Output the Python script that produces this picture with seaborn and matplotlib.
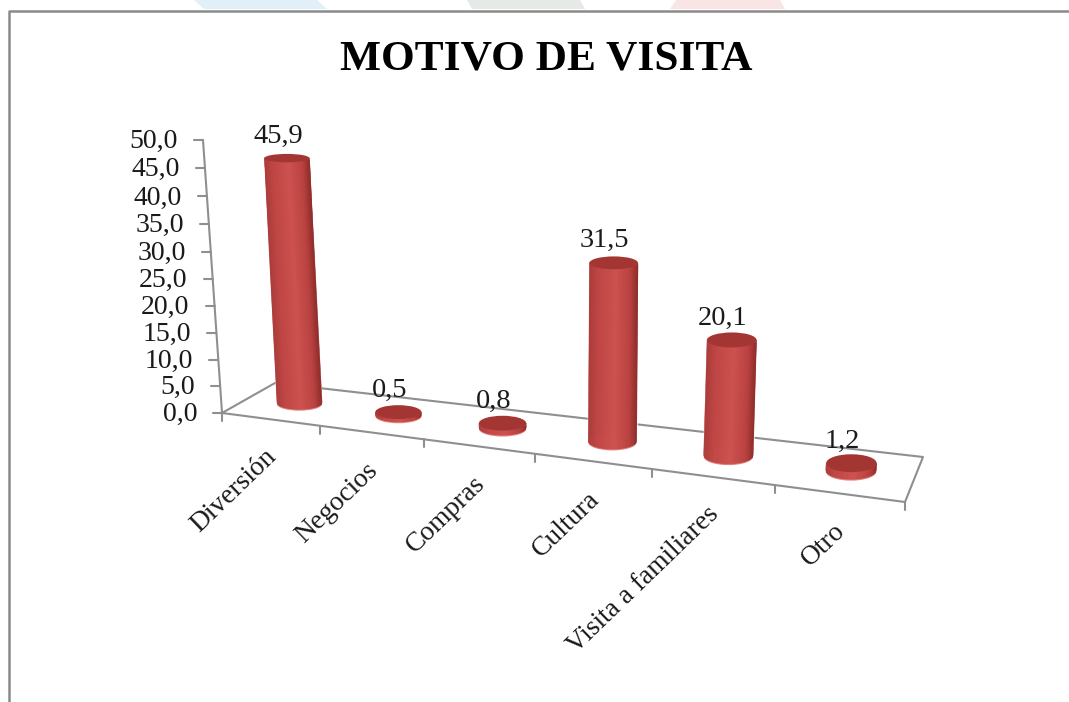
import numpy as np
import matplotlib
matplotlib.use("Agg")
import matplotlib.pyplot as plt
import matplotlib.transforms as mtransforms
from matplotlib.collections import PolyCollection
from matplotlib.colors import LinearSegmentedColormap
from matplotlib.patches import Ellipse, Polygon
import seaborn as sns

categories = ["Diversión", "Negocios", "Compras", "Cultura", "Visita a familiares", "Otro"]
values = [45.9, 0.5, 0.8, 31.5, 20.1, 1.2]
value_labels = ["45,9", "0,5", "0,8", "31,5", "20,1", "1,2"]
axis_ticks = [0, 5, 10, 15, 20, 25, 30, 35, 40, 45, 50]
axis_tick_labels = ["0,0", "5,0", "10,0", "15,0", "20,0", "25,0", "30,0", "35,0", "40,0", "45,0", "50,0"]

W, H = 1069, 702
sns.set_theme(style="white")
plt.rcParams["font.family"] = ["Liberation Serif", "DejaVu Serif"]

fig = plt.figure(figsize=(W / 100, H / 100), dpi=100, facecolor="white")
ax = fig.add_axes([0, 0, 1, 1])
sns.barplot(x=categories, y=values, ax=ax, color="#c04644", saturation=1, width=0.4)
bars = list(ax.patches)
ax.axis("off")

# pixel space of the reference (y down)
PX = mtransforms.Affine2D().scale(1, -1).translate(0, H)

# perspective of the bar plane: (category, value) -> pixel, calibrated by least squares
calib = [((0, 0), (299.5, 402)), ((0, 45.9), (287, 158)), ((1, 0), (398.5, 416)),
         ((2, 0), (502.5, 428)), ((3, 0), (612.5, 440)), ((3, 31.5), (613.5, 263)),
         ((4, 0), (728.5, 454)), ((4, 20.1), (732, 340)), ((5, 0), (851, 471))]
A = []
b = []
for (u, v), (x, y) in calib:
    A.append([u, v, 1, 0, 0, 0, -u * x, -v * x]); b.append(x)
    A.append([0, 0, 0, u, v, 1, -u * y, -v * y]); b.append(y)
h = np.linalg.lstsq(np.array(A, float), np.array(b, float), rcond=None)[0]
HOM = np.append(h, 1).reshape(3, 3)


def project(u, v):
    p = HOM @ np.array([u, v, 1.0])
    return p[0] / p[2], p[1] / p[2]


class Perspective(mtransforms.Transform):
    input_dims = output_dims = 2
    is_separable = False
    has_inverse = False

    def transform_non_affine(self, pts):
        pts = np.asarray(pts, float)
        q = np.column_stack([pts, np.ones(len(pts))]) @ HOM.T
        return q[:, :2] / q[:, 2:3]


# decorative remains at the top and the slide frame
for pts, col in [([(194, 0), (317, 0), (327, 9), (204, 9)], "#e1f0f8"),
                 ([(467, 0), (580, 0), (585, 9), (472, 9)], "#e5eae7"),
                 ([(676, 0), (780, 0), (785, 9), (670, 9)], "#fae5e5")]:
    ax.add_patch(Polygon(pts, closed=True, fc=col, ec="none", transform=PX))
ax.plot([8.5, 8.5, W], [702, 10.5, 10.5], color="#8a8a8a", lw=1.8, transform=PX, clip_on=False)

GRID = "#8f8f8f"
# floor
floor_x = [222, 905, 923, 275, 222]
floor_y = [413, 502, 457, 383, 413]
ax.plot(floor_x, floor_y, color=GRID, lw=1.5, transform=PX, clip_on=False, zorder=1)
# value axis
def axis_point(v):
    f = (v / 50) / (1 + 0.045 * (1 - v / 50))
    return 222 + (203 - 222) * f, 412.5 + (140 - 412.5) * f

ax.plot(*zip(axis_point(0), axis_point(50)), color=GRID, lw=1.5, transform=PX, zorder=1)
for v, lab in zip(axis_ticks, axis_tick_labels):
    x, y = axis_point(v)
    ax.plot([x - 9, x], [y, y], color=GRID, lw=1.5, transform=PX, zorder=1)
    ax.text(x - 25, y + 1.5, lab, ha="right", va="center", fontsize=20, color="#1a1a1a", transform=PX)

# category ticks and labels
edge_ticks = [222, 320, 424, 535, 652, 775, 905]
def edge_y(x):
    return 413 + (x - 222) * (502 - 413) / (905 - 222)

for x in edge_ticks:
    ax.plot([x, x], [edge_y(x), edge_y(x) + 8], color=GRID, lw=1.5, transform=PX, zorder=1)
for i, cat in enumerate(categories):
    xm = (edge_ticks[i] + edge_ticks[i + 1]) / 2
    ax.text(xm + 2, edge_y(xm) + 34, cat, rotation=44, rotation_mode="anchor", ha="right", va="center",
            fontsize=19.8, color="#1a1a1a", transform=PX)

ax.text(546, 60, "MOTIVO DE VISITA", ha="center", va="center", fontsize=31.2, fontweight="bold",
        color="black", transform=PX)

# cylinders, built on the seaborn bars
cmap = LinearSegmentedColormap.from_list(
    "cyl", [(0, "#aa3c3a"), (0.2, "#c04745"), (0.55, "#cd5250"), (0.85, "#b94240"), (1, "#8f2e2c")])

for i, (bar, val, lab) in enumerate(zip(bars, values, value_labels)):
    cx = bar.get_x() + bar.get_width() / 2
    top = bar.get_height()
    xb, yb = project(cx, 0)
    xt, yt = project(cx, top)
    rx = 22.5 + 0.55 * i
    ry_b = 6.5 + 0.5 * i
    ry_t = ry_b - 0.05 * top
    span = project(cx + 0.5, 0)[0] - project(cx - 0.5, 0)[0]
    bar.set_width(2 * rx / span)
    bar.set_x(cx - rx / span)
    bar.set_transform(Perspective() + PX)
    bar.set_zorder(2)
    bar.set_clip_on(False)
    ax.add_patch(Ellipse((xb, yb + 1.5), 2 * rx, 2 * ry_b, fc="#e27c7a", ec="none", transform=PX, zorder=2.1))
    ts = np.linspace(-1, 1, 61)
    strips = []
    cols = []
    for t0, t1 in zip(ts[:-1], ts[1:]):
        def pts(t):
            s = np.sqrt(max(0, 1 - t * t))
            return (xt + rx * t, yt + ry_t * s), (xb + rx * t, yb + ry_b * s)
        a0, b0 = pts(t0)
        a1, b1 = pts(t1)
        strips.append([a0, b0, b1, a1])
        cols.append(cmap((t0 + t1 + 2) / 4))
    ax.add_collection(PolyCollection(strips, facecolors=cols, edgecolors=cols, linewidths=0.4,
                                     transform=PX, zorder=2.2), autolim=False)
    ax.add_patch(Ellipse((xt, yt), 2 * rx, 2 * ry_t, fc="#a33533", ec="none", transform=PX, zorder=2.3))
    ax.text(xt - 9, yt - 22, lab, ha="center", va="center", fontsize=20.5, color="#1a1a1a", transform=PX, zorder=3)

ax.set_xlim(0, 1)
ax.set_ylim(0, 1)
fig.savefig("out.png", dpi=100)
